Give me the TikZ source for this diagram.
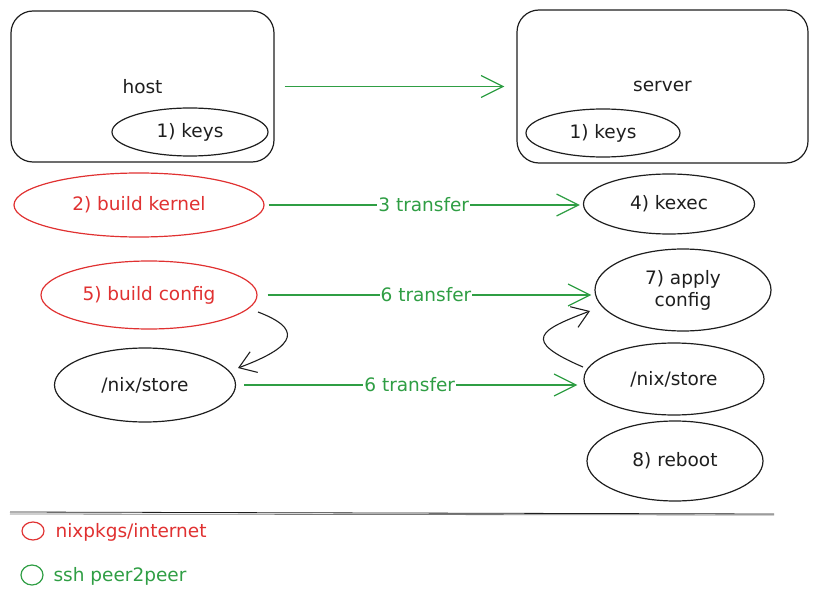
\documentclass[tikz,border=0pt]{standalone}
\usepackage{fontspec}
\setmainfont{DejaVu Sans}
\usetikzlibrary{arrows.meta,shapes.geometric,calc}
\definecolor{ink}{HTML}{1E1E1E}
\definecolor{xred}{HTML}{E03131}
\definecolor{xgreen}{HTML}{2F9E44}
\tikzset{
  every node/.style={font=\fontsize{18.5}{22}\selectfont, text=ink},
  box/.style={draw=ink, line width=1.2pt, rounded corners=22pt, inner sep=0pt},
  oval/.style={draw=ink, ellipse, line width=1.2pt, inner sep=0pt},
  redoval/.style={oval, draw=xred, text=xred},
  flow/.style={draw=xgreen, line width=1.2pt, -{Straight Barb[length=22pt,width=22pt,line width=1.2pt]}},
  flowlabel/.style={fill=white, text=xgreen, inner sep=1pt},
  dep/.style={draw=ink, line width=1.1pt, -{Straight Barb[length=16pt,width=22pt,line width=1.1pt]}},
}
\begin{document}
\begin{tikzpicture}[x=1pt,y=-1pt]
\useasboundingbox (0,0) rectangle (819,596);
% boxes
\node[box, minimum width=263pt, minimum height=151pt] (host) at (142.5,86.5) {host};
\node[box, minimum width=291pt, minimum height=153pt] (server) at (662.5,86.5) {server};
\node[oval, minimum width=156pt, minimum height=48pt] (hkeys) at (190,132) {1) keys};
\node[oval, minimum width=154pt, minimum height=48pt] (skeys) at (603,133) {1) keys};
% left column
\node[redoval, minimum width=250pt, minimum height=64pt] (kernel) at (139,205) {2) build kernel};
\node[redoval, minimum width=216pt, minimum height=68pt] (config) at (149,295) {5) build config};
\node[oval, minimum width=181pt, minimum height=74pt] (storeL) at (145,385) {/nix/store};
% right column
\node[oval, minimum width=171pt, minimum height=60pt] (kexec) at (669,204) {4) kexec};
\node[oval, minimum width=176pt, minimum height=82pt, align=center] (apply) at (683,290) {7) apply\\config};
\node[oval, minimum width=180pt, minimum height=72pt] (storeR) at (674,379) {/nix/store};
\node[oval, minimum width=176pt, minimum height=80pt] (reboot) at (675,461) {8) reboot};
% transfers
\draw[flow, shorten <=10pt, shorten >=12pt] (host.east) -- (server.west);
\draw[flow, shorten <=4pt, shorten >=3pt] (kernel.east) -- (kernel.east -| kexec.west)
  node[midway, flowlabel] {3 transfer};
\draw[flow, shorten <=10pt, shorten >=3pt] (config.east) -- (config.east -| apply.west)
  node[midway, flowlabel] {6 transfer};
\draw[flow, shorten <=8pt, shorten >=6pt] (storeL.east) -- (storeL.east -| storeR.west)
  node[midway, flowlabel] {6 transfer};
% dependencies
\coordinate (c1) at (258,312);
\coordinate (c2) at (238,368);
\draw[dep] (c1) .. controls (300,328) and (300,345) .. (c2);
\coordinate (d1) at (583,367);
\coordinate (d2) at (590,311);
\draw[dep] (d1) .. controls (520,340) and (540,330) .. (d2);
% separator
\coordinate (s1) at (10,512);
\coordinate (s2) at (774,514);
\draw[ink, line width=0.8pt] (s1) -- (s2);
\draw[ink!60, line width=0.8pt] ($(s1)+(0,2)$) -- ($(s2)+(0,1)$);
% legend
\node[ellipse, draw=xred, line width=1.2pt, minimum width=22pt, minimum height=18pt, inner sep=0pt] (lr) at (33,531) {};
\node[anchor=west, text=xred] (lrt) at (52,532) {nixpkgs/internet};
\node[ellipse, draw=xgreen, line width=1.2pt, minimum width=22pt, minimum height=20pt, inner sep=0pt] (lg) at (32,575) {};
\node[anchor=west, text=xgreen] (lgt) at (50,576) {ssh peer2peer};
\end{tikzpicture}
\end{document}
